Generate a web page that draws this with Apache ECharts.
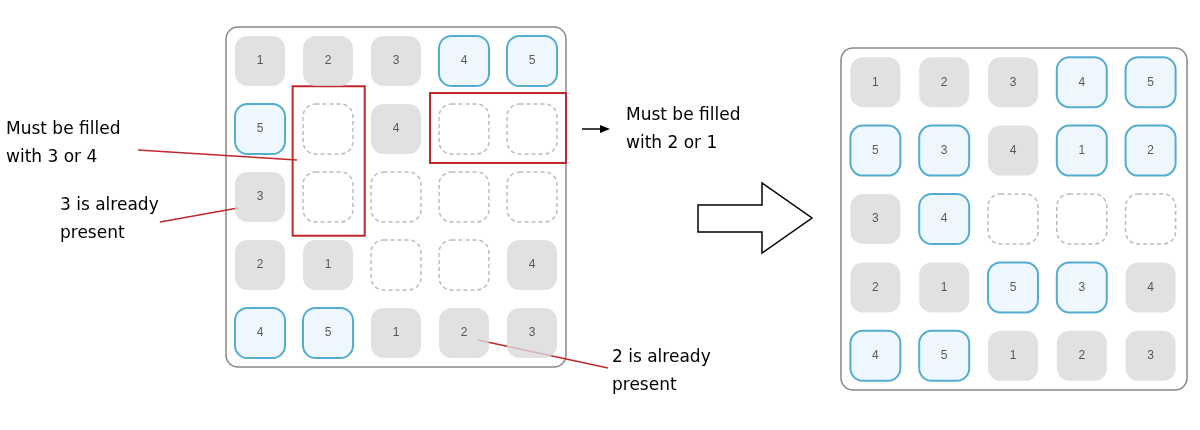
<!DOCTYPE html>
<html>
<head>
<meta charset="utf-8">
<script src="https://cdn.jsdelivr.net/npm/echarts@6/dist/echarts.min.js"></script>
<style>html,body{margin:0;background:#fff}#chart-container{width:1200px;height:430px}</style>
</head>
<body>
<div id="chart-container"></div>
<script>
// g = given (gray), b = placed (blue), e = empty (dashed)
const leftKinds = [
  ['g','g','g','b','b'],
  ['b','e','g','e','e'],
  ['g','e','e','e','e'],
  ['g','g','e','e','g'],
  ['b','b','g','g','g']
];
const leftValues = [
  [1,2,3,4,5],
  [5,0,4,0,0],
  [3,0,0,0,0],
  [2,1,0,0,4],
  [4,5,1,2,3]
];
const rightKinds = [
  ['g','g','g','b','b'],
  ['b','b','g','b','b'],
  ['g','b','e','e','e'],
  ['g','g','b','b','g'],
  ['b','b','g','g','g']
];
const rightValues = [
  [1,2,3,4,5],
  [5,3,4,1,2],
  [3,4,0,0,0],
  [2,1,5,3,4],
  [4,5,1,2,3]
];
// red boxes on the left board, in cell units [x0, y0, x1, y1]
const redBoxes = [[0.98, 0.87, 2.04, 3.07], [3.0, 0.97, 5.12, 2.0]];

var dom = document.getElementById('chart-container');
var myChart = echarts.init(dom, null, { renderer: 'canvas' });

const styles = {
  g: { color: '#d9d9d9', borderColor: '#d9d9d9', borderWidth: 0 },
  b: { color: '#eaf5fc', borderColor: '#2a9ac4', borderWidth: 2 },
  e: { color: '#ffffff', borderColor: '#aaaaaa', borderWidth: 1.5, borderType: [4, 3] }
};

function cells(kinds, values, idx) {
  const out = [];
  ['g', 'b', 'e'].forEach(function (k) {
    const data = [];
    for (let r = 0; r < 5; r++) for (let c = 0; c < 5; c++) {
      if (kinds[r][c] === k) data.push([c + 0.5, r + 0.5, values[r][c]]);
    }
    out.push({
      type: 'scatter', xAxisIndex: idx, yAxisIndex: idx,
      symbol: 'roundRect', symbolSize: 50, silent: true,
      itemStyle: styles[k],
      label: {
        show: true, position: 'inside', color: '#333', fontSize: 12,
        formatter: function (p) { return p.value[2] ? String(p.value[2]) : ''; }
      },
      data: data
    });
  });
  return out;
}

const series = cells(leftKinds, leftValues, 0).concat(cells(rightKinds, rightValues, 1));
series.push({
  type: 'scatter', xAxisIndex: 0, yAxisIndex: 0, data: [], silent: true,
  markArea: {
    silent: true,
    itemStyle: { color: 'rgba(0,0,0,0)', borderColor: '#c0282d', borderWidth: 2 },
    data: redBoxes.map(function (b) { return [{ coord: [b[0], b[1]] }, { coord: [b[2], b[3]] }]; })
  }
});

function axis(i, type) {
  return { type: 'value', gridIndex: i, min: 0, max: 5, inverse: type === 'y', show: false };
}

const font = { fontFamily: 'DejaVu Sans', fontSize: 17, fill: '#000', lineHeight: 28 };
function txt(x, y, s) { return { type: 'text', left: x, top: y, style: Object.assign({ text: s }, font) }; }
function ln(x1, y1, x2, y2, c) {
  return { type: 'line', shape: { x1: x1, y1: y1, x2: x2, y2: y2 }, style: { stroke: c, lineWidth: 1.5 } };
}

option = {
  animation: false,
  grid: [
    { left: 226, top: 27, width: 340, height: 340 },
    { left: 841, top: 48, width: 344, height: 342 }
  ],
  xAxis: [axis(0, 'x'), axis(1, 'x')],
  yAxis: [axis(0, 'y'), axis(1, 'y')],
  graphic: [
    { type: 'rect', z: -1, shape: { x: 226, y: 27, width: 340, height: 340, r: 12 }, style: { fill: 'none', stroke: '#888', lineWidth: 1.5 } },
    { type: 'rect', z: -1, shape: { x: 841, y: 48, width: 346, height: 342, r: 12 }, style: { fill: 'none', stroke: '#888', lineWidth: 1.5 } },
    txt(6, 116, 'Must be filled\nwith 3 or 4'),
    txt(60, 192, '3 is already\npresent'),
    txt(626, 102, 'Must be filled\nwith 2 or 1'),
    txt(612, 344, '2 is already\npresent'),
    ln(138, 150, 297, 160, '#c0282d'),
    ln(160, 222, 238, 208, '#c0282d'),
    ln(478, 340, 608, 368, '#c0282d'),
    ln(582, 129, 606, 129, '#000'),
    { type: 'polygon', shape: { points: [[600, 125], [610, 129], [600, 133]] }, style: { fill: '#000' } },
    { type: 'polygon', shape: { points: [[698, 205], [762, 205], [762, 183], [812, 218], [762, 253], [762, 232], [698, 232]] }, style: { fill: '#fff', stroke: '#000', lineWidth: 1.5 } }
  ],
  series: series
};

myChart.setOption(option);
window.addEventListener('resize', myChart.resize);
</script>
</body>
</html>
